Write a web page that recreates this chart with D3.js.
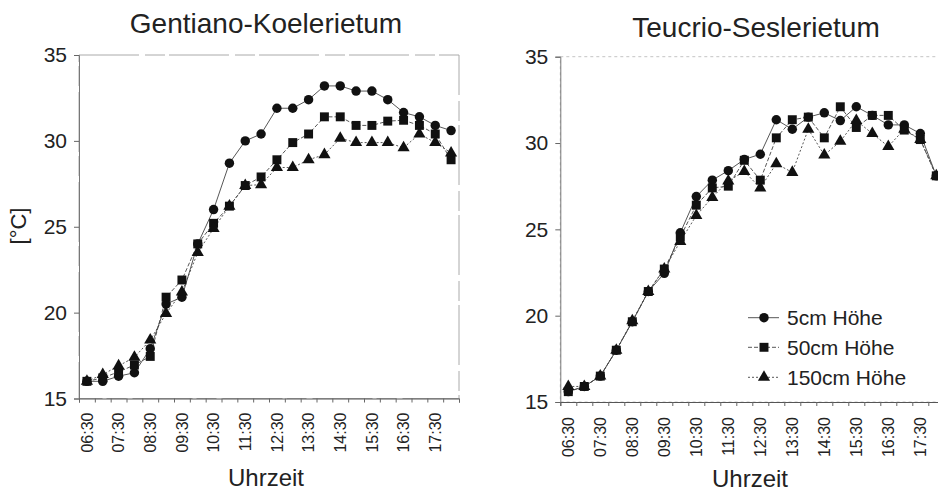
<!DOCTYPE html>
<html>
<head>
<meta charset="utf-8">
<script src="https://cdn.jsdelivr.net/npm/d3@7"></script>
<style>
  html, body { margin: 0; padding: 0; background: #fff; }
  svg { display: block; font-family: "Liberation Sans", Arial, sans-serif; }
</style>
</head>
<body>
<svg id="chart" width="938" height="493"></svg>
<script>
// ---- data ----
const times = ["06:30","07:00","07:30","08:00","08:30","09:00","09:30","10:00","10:30","11:00","11:30","12:00",
               "12:30","13:00","13:30","14:00","14:30","15:00","15:30","16:00","16:30","17:00","17:30","18:00"];
const tickLabels = ["06:30","07:30","08:30","09:30","10:30","11:30","12:30","13:30","14:30","15:30","16:30","17:30"];
const yTicks = [15, 20, 25, 30, 35];
const seriesNames = ["5cm Höhe", "50cm Höhe", "150cm Höhe"];

const gentiano5   = [16.0,16.0,16.3,16.5,17.9,20.5,20.9,24.0,26.0,28.7,30.0,30.4,31.9,31.9,32.4,33.2,33.2,32.9,32.9,32.4,31.65,31.4,30.9,30.6];
const gentiano50  = [16.0,16.2,16.55,16.95,17.45,20.9,21.9,24.0,25.2,26.2,27.4,27.9,28.9,29.9,30.4,31.4,31.4,30.9,30.9,31.15,31.2,30.9,30.4,28.9];
const gentiano150 = [16.0,16.4,16.9,17.4,18.4,19.95,21.2,23.5,24.9,26.2,27.4,27.45,28.45,28.45,28.9,29.2,30.15,29.9,29.9,29.9,29.6,30.4,29.9,29.3];

const teucrio5    = [15.6,15.9,16.5,18.0,19.65,21.4,22.45,24.8,26.9,27.85,28.4,29.05,29.35,31.35,30.8,31.5,31.75,31.3,32.1,31.6,31.05,31.05,30.55,28.1];
const teucrio50   = [15.6,15.9,16.5,18.0,19.65,21.4,22.7,24.55,26.4,27.4,27.5,29.0,27.85,30.3,31.35,31.5,30.3,32.1,30.9,31.6,31.6,30.75,30.2,28.1];
const teucrio150  = [15.9,15.9,16.5,18.0,19.7,21.4,22.7,24.3,25.8,26.85,27.8,28.35,27.4,28.8,28.3,30.8,29.3,30.1,31.3,30.55,29.8,30.8,30.2,28.1];

// ---- drawing ----
const svg = d3.select("#chart");
const symbols = [d3.symbolCircle, d3.symbolSquare, d3.symbolTriangle];
const symSizes = [70, 80, 64];
const dashes = [null, "4,2", "2,2"];

function drawPanel(p) {
  const g = svg.append("g");
  const x = d3.scaleBand().domain(times).range([p.x0, p.x1]).padding(0);
  const y = d3.scaleLinear().domain([15, 35]).range([p.yBottom, p.yTop]);

  // faint frame
  g.append("rect")
    .attr("x", p.x0).attr("y", p.yTop)
    .attr("width", p.x1 - p.x0).attr("height", p.yBottom - p.yTop)
    .attr("fill", "none").attr("stroke", p.frameColor).attr("stroke-width", 1)
    .attr("stroke-dasharray", p.frameDash);

  // y axis
  const ya = g.append("g").attr("transform", `translate(${p.x0},0)`)
    .call(d3.axisLeft(y).tickValues(yTicks).tickSize(5).tickPadding(7));
  ya.select(".domain").attr("stroke", "#777");
  ya.selectAll(".tick line").attr("stroke", "#666");
  ya.selectAll("text").attr("font-size", 21).attr("fill", "#222")
    .attr("font-family", "Liberation Sans, Arial, sans-serif");

  // x axis tick marks at category boundaries
  const xe = d3.scaleLinear().domain([0, times.length]).range([p.x0, p.x1]);
  const xm = g.append("g").attr("transform", `translate(0,${p.yBottom})`)
    .call(d3.axisBottom(xe).tickValues(d3.range(times.length + 1)).tickSize(4).tickFormat(""));
  xm.select(".domain").attr("stroke", "#555");
  xm.selectAll(".tick line").attr("stroke", "#666");

  // x axis labels
  const xa = g.append("g").attr("transform", `translate(0,${p.yBottom})`)
    .call(d3.axisBottom(x).tickValues(tickLabels).tickSize(0).tickPadding(0));
  xa.select(".domain").remove();
  xa.selectAll("text")
    .attr("font-size", 16).attr("fill", "#222")
    .attr("font-family", "Liberation Sans, Arial, sans-serif")
    .attr("transform", "rotate(-90)")
    .attr("text-anchor", "end")
    .attr("x", -p.labelGap).attr("y", 0).attr("dy", "0.35em");

  // series
  p.series.forEach((vals, i) => {
    const line = d3.line().x((d, j) => x(times[j]) + x.bandwidth() / 2).y(d => y(d));
    g.append("path").datum(vals)
      .attr("fill", "none").attr("stroke", "#444").attr("stroke-width", 0.9)
      .attr("stroke-dasharray", dashes[i])
      .attr("d", line);
  });
  p.series.forEach((vals, i) => {
    g.selectAll(null).data(vals).enter().append("path")
      .attr("d", d3.symbol().type(symbols[i]).size(symSizes[i]))
      .attr("transform", (d, j) => `translate(${x(times[j]) + x.bandwidth() / 2},${y(d)})`)
      .attr("fill", "#111");
  });

  // title
  g.append("text").attr("x", p.titleX).attr("y", p.titleY)
    .attr("text-anchor", "middle").attr("font-size", 28).attr("fill", "#222")
    .text(p.title);
  // x axis title
  g.append("text").attr("x", p.xTitleX).attr("y", p.xTitleY)
    .attr("text-anchor", "middle").attr("font-size", 24).attr("fill", "#222")
    .text("Uhrzeit");

  return {x, y};
}

drawPanel({
  x0: 79, x1: 459, yTop: 55, yBottom: 398.5,
  frameColor: "#aaa", frameDash: "60,6,20,4",
  labelGap: 14,
  series: [gentiano5, gentiano50, gentiano150],
  title: "Gentiano-Koelerietum", titleX: 266, titleY: 33,
  xTitleX: 266, xTitleY: 486
});

drawPanel({
  x0: 560.3, x1: 944.3, yTop: 56.7, yBottom: 402,
  frameColor: "#c4c4c4", frameDash: "3,3",
  labelGap: 15,
  series: [teucrio5, teucrio50, teucrio150],
  title: "Teucrio-Seslerietum", titleX: 756, titleY: 37,
  xTitleX: 750, xTitleY: 487
});

// y axis label
svg.append("text")
  .attr("transform", "translate(26,226) rotate(-90)")
  .attr("text-anchor", "middle").attr("font-size", 22).attr("fill", "#222")
  .text("[°C]");

// legend (right panel)
const legend = svg.append("g");
const legendRows = [317.7, 347.3, 377.3];
seriesNames.forEach((name, i) => {
  const r = legend.append("g").attr("transform", `translate(0,${legendRows[i]})`);
  r.append("line").attr("x1", 748).attr("x2", 779).attr("y1", 0).attr("y2", 0)
    .attr("stroke", "#444").attr("stroke-width", 0.9).attr("stroke-dasharray", dashes[i]);
  r.append("path").attr("d", d3.symbol().type(symbols[i]).size(symSizes[i]))
    .attr("transform", "translate(764,0)").attr("fill", "#111");
  r.append("text").attr("x", 787).attr("y", 0).attr("dy", "0.35em")
    .attr("font-size", 21).attr("fill", "#222").text(name);
});
</script>
</body>
</html>
